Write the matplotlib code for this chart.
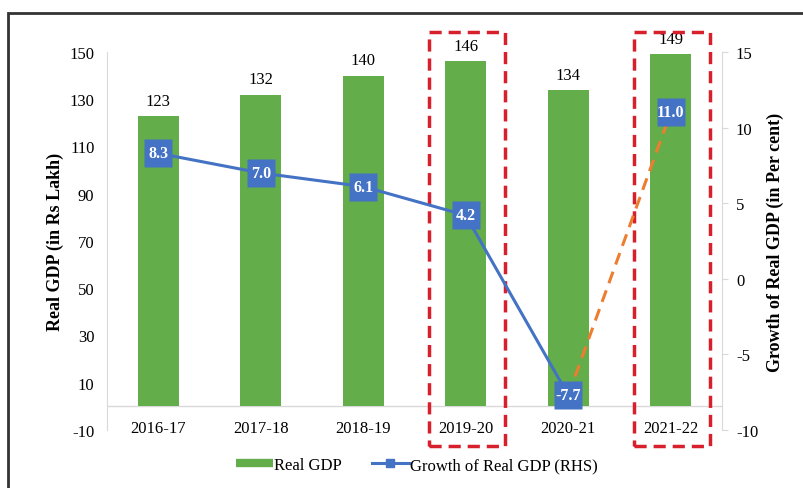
import matplotlib.pyplot as plt
from matplotlib.patches import Rectangle
from matplotlib.lines import Line2D

plt.rcParams['font.family'] = ['Liberation Serif', 'DejaVu Serif']
plt.rcParams['axes.unicode_minus'] = False

years = ['2016-17', '2017-18', '2018-19', '2019-20', '2020-21', '2021-22']
real_gdp = [123, 132, 140, 146, 134, 149]
growth = [8.3, 7.0, 6.1, 4.2, -7.7, 11.0]
highlight = ['2019-20', '2021-22']

green = '#63ad4a'
blue = '#4472c4'
orange = '#ed7d31'
red = '#d7202b'
grey = '#d9d9d9'

fig = plt.figure(figsize=(8.04, 4.89), dpi=100)
ax = fig.add_axes([107/804, 1-431/489, 615/804, 378/489])
ax2 = ax.twinx()

x = list(range(len(years)))
ax.bar(x, real_gdp, width=0.4, color=green, zorder=2)
ax.axhline(0, color=grey, lw=1, zorder=1)
for xi, v in zip(x, real_gdp):
    ax.annotate(str(v), (xi, v), xytext=(0, 11), textcoords='offset points',
                ha='center', va='center', fontsize=12)

ax.set_xlim(-0.5, len(years) - 0.5)
ax.set_ylim(-10, 150)
ax.set_yticks(range(-10, 151, 20))
ax.set_xticks(x)
ax.set_xticklabels(years)
ax.tick_params(axis='x', length=0, pad=-7, labelsize=12)
ax.tick_params(axis='y', length=0, pad=9, labelsize=12)
ax.set_ylabel('Real GDP (in Rs Lakh)', fontsize=13, fontweight='bold', labelpad=4)

ax2.set_ylim(-10, 15)
ax2.set_yticks(range(-10, 16, 5))
ax2.tick_params(axis='y', length=4, color=grey, pad=6, labelsize=12)
ax2.set_ylabel('Growth of Real GDP (in Per cent)', fontsize=13, fontweight='bold', labelpad=6)

for a in (ax, ax2):
    for s in ('top', 'bottom'):
        a.spines[s].set_visible(False)
    a.spines['left'].set_color(grey)
    a.spines['right'].set_color(grey)
ax.spines['right'].set_visible(False)
ax2.spines['left'].set_visible(False)

# growth line: solid up to 2020-21, dashed recovery to 2021-22
ax2.plot(x[:-1], growth[:-1], color=blue, lw=2.2, zorder=3)
ax2.plot(x[-2:], growth[-2:], color=orange, lw=2.2, ls=(0, (4, 2.5)), zorder=3)
ax2.plot(x, growth, ls='none', marker='s', ms=20, color=blue, mec='none', zorder=4)
for xi, g in zip(x, growth):
    ax2.text(xi, g, f'{g:.1f}', ha='center', va='center', color='white',
             fontsize=11.5, fontweight='bold', zorder=5)

# red dashed highlight boxes
for yr in highlight:
    i = years.index(yr)
    ax.add_patch(Rectangle((i - 0.36, -16.8), 0.74, 175.3, fill=False,
                           ec=red, lw=2.5, ls=(0, (3.5, 2)), clip_on=False, zorder=6))

handles = [Line2D([], [], color=green, lw=6, solid_capstyle='butt'),
           Line2D([], [], color=blue, lw=2.2, marker='s', ms=6)]
fig.legend(handles, ['Real GDP', 'Growth of Real GDP (RHS)'], loc='center',
           bbox_to_anchor=(417/804, 1-466/489), ncol=2, frameon=False,
           fontsize=12, handlelength=2.2, columnspacing=1.8, handletextpad=0.1)

# outer frame
fig.add_artist(Rectangle((8/804, -0.05), 1.1, 1.05 - 14/489, transform=fig.transFigure,
                         fill=False, ec='#333333', lw=2))

fig.savefig('out.png', dpi=100)
